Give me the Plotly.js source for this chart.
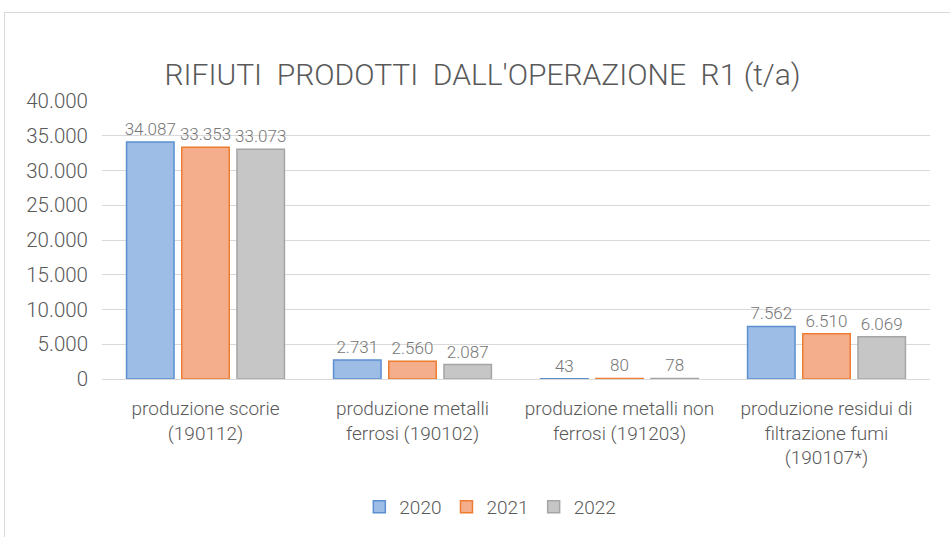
<!DOCTYPE html>
<html>
<head>
<meta charset="utf-8">
<script src="https://cdn.plot.ly/plotly-3.0.1.min.js"></script>
<style>
  html, body { margin: 0; padding: 0; background: #ffffff; }
  #frame { position: absolute; left: 4px; top: 12px; width: 960px; height: 540px; border: 1px solid #d9d9d9; box-sizing: border-box; }
  #chart { position: absolute; left: 0; top: 0; width: 950px; height: 537px; }
</style>
</head>
<body>
<div id="frame"></div>
<div id="chart"></div>
<script>
const categories = [
  "produzione scorie<br>(190112)",
  "produzione metalli<br>ferrosi (190102)",
  "produzione metalli non<br>ferrosi (191203)",
  "produzione residui di<br>filtrazione fumi<br>(190107*)"
];
const seriesNames = ["2020", "2021", "2022"];
const values2020 = [34087, 2731, 43, 7562];
const values2021 = [33353, 2560, 80, 6510];
const values2022 = [33073, 2087, 78, 6069];
const yTicks = [0, 5000, 10000, 15000, 20000, 25000, 30000, 35000, 40000];

const fillColors = ["#9dbde6", "#f5ae8c", "#c6c6c6"];
const lineColors = ["#5b8fd0", "#ed7d31", "#a5a5a5"];
const allValues = [values2020, values2021, values2022];
const FONT = "Roboto, 'Open Sans', sans-serif";

const traces = seriesNames.map((name, i) => ({
  type: "bar",
  name: name,
  x: categories,
  y: allValues[i],
  marker: { color: fillColors[i], line: { color: lineColors[i], width: 1.5 } },
  text: allValues[i],
  texttemplate: "%{y:,}",
  textposition: "outside",
  constraintext: "none",
  cliponaxis: false,
  textfont: { family: FONT, size: 17, color: "#767676", weight: 300 },
  hoverinfo: "none"
}));

const layout = {
  width: 950,
  height: 537,
  paper_bgcolor: "rgba(0,0,0,0)",
  plot_bgcolor: "rgba(0,0,0,0)",
  separators: ",.",
  margin: { l: 102, r: 20, t: 101, b: 157 },
  font: { family: FONT, color: "#595959" },
  title: {
    text: "RIFIUTI\u00a0 PRODOTTI\u00a0 DALL'OPERAZIONE\u00a0 R1 (t/a)",
    font: { family: FONT, size: 30, color: "#595959", weight: 300 },
    xref: "container", x: 0.508, xanchor: "center",
    yref: "container", y: 0.862, yanchor: "middle"
  },
  barmode: "group",
  bargap: 0.2,
  bargroupgap: 0.14,
  xaxis: {
    type: "category",
    showline: true,
    linecolor: "#d9d9d9",
    linewidth: 1,
    ticks: "",
    ticklabelstandoff: 12,
    tickfont: { family: FONT, size: 19, color: "#595959", weight: 300 },
    showgrid: false
  },
  yaxis: {
    range: [0, 40000],
    tickvals: yTicks,
    tickformat: ",d",
    showgrid: true,
    gridcolor: "#d9d9d9",
    gridwidth: 1,
    zeroline: false,
    showline: false,
    ticks: "",
    ticklabelstandoff: 13,
    tickfont: { family: FONT, size: 20.5, color: "#595959", weight: 300 }
  },
  showlegend: true,
  legend: {
    orientation: "h",
    x: 0.469, xanchor: "center",
    y: -0.455, yanchor: "middle",
    font: { family: FONT, size: 19, color: "#595959", weight: 300 },
    itemwidth: 30,
    traceorder: "normal"
  }
};

Plotly.newPlot("chart", traces, layout, { displayModeBar: false, staticPlot: true });
</script>
</body>
</html>
